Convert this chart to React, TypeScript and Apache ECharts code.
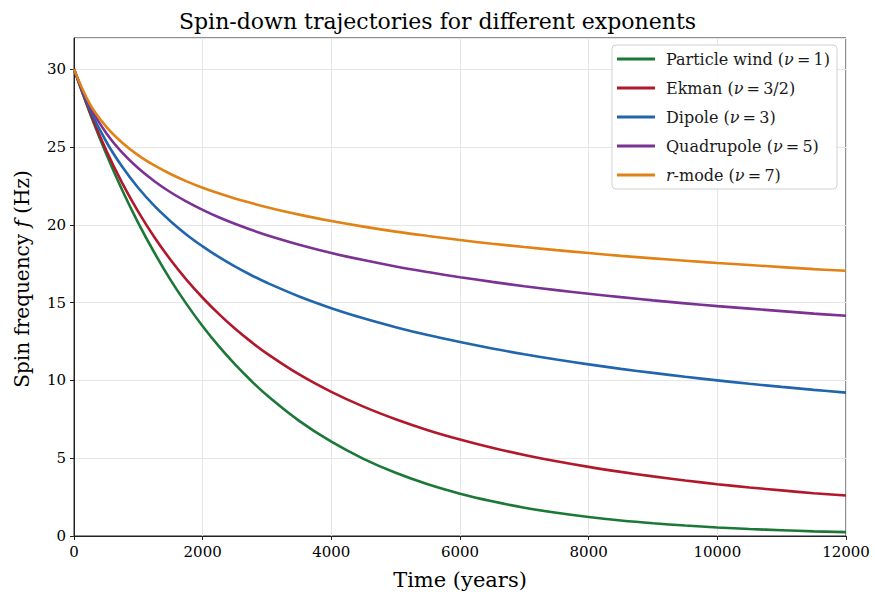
import React, { useEffect, useRef } from "react";
import * as echarts from "echarts";

const years = [0, 250, 500, 750, 1000, 1250, 1500, 1750, 2000, 2250, 2500, 2750, 3000, 3500, 4000, 4500, 5000, 5500, 6000, 6500, 7000, 7500, 8000, 8500, 9000, 9500, 10000, 10500, 11000, 11500, 12000];

const particleWind = [30, 27.15, 24.56, 22.22, 20.11, 18.2, 16.46, 14.9, 13.48, 12.2, 11.04, 9.99, 9.04, 7.4, 6.06, 4.96, 4.06, 3.32, 2.72, 2.23, 1.82, 1.49, 1.22, 1.0, 0.82, 0.67, 0.55, 0.45, 0.37, 0.3, 0.25];
const ekman = [30, 27.21, 24.79, 22.68, 20.83, 19.2, 17.75, 16.46, 15.31, 14.27, 13.33, 12.49, 11.72, 10.38, 9.26, 8.31, 7.5, 6.8, 6.2, 5.67, 5.21, 4.8, 4.44, 4.12, 3.83, 3.57, 3.33, 3.12, 2.93, 2.75, 2.6];
const dipole = [30, 27.39, 25.35, 23.72, 22.36, 21.21, 20.23, 19.36, 18.61, 17.93, 17.32, 16.77, 16.27, 15.39, 14.64, 13.99, 13.42, 12.91, 12.46, 12.05, 11.68, 11.34, 11.03, 10.74, 10.48, 10.23, 10.0, 9.78, 9.58, 9.39, 9.21];
const quadrupole = [30, 27.58, 25.9, 24.63, 23.63, 22.8, 22.09, 21.49, 20.96, 20.48, 20.06, 19.68, 19.33, 18.72, 18.19, 17.73, 17.32, 16.96, 16.63, 16.33, 16.05, 15.8, 15.57, 15.35, 15.14, 14.95, 14.77, 14.61, 14.45, 14.29, 14.15];
const rMode = [30, 27.74, 26.31, 25.27, 24.46, 23.81, 23.26, 22.79, 22.38, 22.02, 21.69, 21.4, 21.13, 20.65, 20.24, 19.88, 19.56, 19.28, 19.02, 18.78, 18.57, 18.37, 18.18, 18.0, 17.84, 17.69, 17.54, 17.41, 17.28, 17.15, 17.04];

const seriesNames = ["Particle wind", "Ekman", "Dipole", "Quadrupole", "r-mode"];
const nuLabels = ["1", "3/2", "3", "5", "7"];
const seriesValues = [particleWind, ekman, dipole, quadrupole, rMode];
const colors = ["#1b7837", "#b2182b", "#2166ac", "#7b3294", "#e08214"];

const FONT = "'DejaVu Serif', serif";

export default function App() {
  const ref = useRef<HTMLDivElement>(null);
  useEffect(() => {
    if (!ref.current) return;
    const chart = echarts.init(ref.current, undefined, { renderer: "svg" });
    const series = seriesNames.map((name, i) => ({
      name,
      type: "line",
      smooth: 0.4,
      showSymbol: false,
      data: years.map((t, j) => [t, seriesValues[i][j]]),
      lineStyle: { color: colors[i], width: 2.6 },
      itemStyle: { color: colors[i] },
      z: 3,
    }));
    chart.setOption({
      animation: false,
      backgroundColor: "#ffffff",
      textStyle: { fontFamily: FONT },
      title: {
        text: "Spin-down trajectories for different exponents",
        left: "center",
        top: 5,
        textStyle: { fontFamily: FONT, fontSize: 22, fontWeight: "normal", color: "#000" },
      },
      grid: {
        left: 74,
        right: 29,
        top: 38,
        bottom: 56,
        containLabel: false,
        outerBoundsMode: "none",
        show: true,
        borderColor: "#222",
        borderWidth: 1,
      },
      legend: {
        orient: "vertical",
        right: 38,
        top: 45,
        padding: [6, 7, 6, 5],
        itemGap: 13,
        itemWidth: 38,
        itemHeight: 3,
        icon: "rect",
        backgroundColor: "rgba(255,255,255,0.85)",
        borderColor: "#d0d0d0",
        borderWidth: 1,
        borderRadius: 4,
        data: seriesNames,
        formatter: (name: string) => {
          const i = seriesNames.indexOf(name);
          if (i === 4) {
            return "{it|r}{n|-mode (}{it|ν}{n|\u2009=\u2009" + nuLabels[i] + ")}";
          }
          return "{n|" + name + " (}{it|ν}{n|\u2009=\u2009" + nuLabels[i] + ")}";
        },
        textStyle: {
          fontFamily: FONT,
          fontSize: 16,
          color: "#1a1a1a",
          padding: [0, 0, 0, 6],
          rich: {
            n: { fontFamily: FONT, fontSize: 16, color: "#1a1a1a" },
            it: { fontFamily: FONT, fontSize: 16, fontStyle: "italic", color: "#1a1a1a" },
          },
        },
      },
      xAxis: {
        type: "value",
        min: 0,
        max: 12000,
        interval: 2000,
        name: "Time (years)",
        nameLocation: "middle",
        nameGap: 33,
        nameTextStyle: { fontFamily: FONT, fontSize: 21, color: "#000" },
        axisLine: { show: true, onZero: false, lineStyle: { color: "#222", width: 1 } },
        axisTick: { show: true, length: 4, lineStyle: { color: "#222" } },
        axisLabel: {
          fontFamily: FONT,
          fontSize: 15,
          color: "#000",
          margin: 8,
          formatter: (v: number) => String(v),
        },
        splitLine: { show: true, lineStyle: { color: "#e6e6e6", width: 1 } },
      },
      yAxis: {
        type: "value",
        min: 0,
        max: 32,
        interval: 5,
        name: "{n|Spin frequency }{it|f}{n| (Hz)}",
        nameLocation: "middle",
        nameGap: 42,
        nameRotate: 90,
        nameTextStyle: {
          fontFamily: FONT,
          fontSize: 20,
          color: "#000",
          padding: [0, 0, 0, 16],
          rich: {
            n: { fontFamily: FONT, fontSize: 20, color: "#000" },
            it: { fontFamily: FONT, fontSize: 20, fontStyle: "italic", color: "#000" },
          },
        },
        axisLine: { show: true, onZero: false, lineStyle: { color: "#222", width: 1 } },
        axisTick: { show: true, length: 4, lineStyle: { color: "#222" } },
        axisLabel: {
          fontFamily: FONT,
          fontSize: 15,
          color: "#000",
          margin: 8,
          showMaxLabel: false,
          formatter: (v: number) => String(v),
        },
        splitLine: { show: true, lineStyle: { color: "#e6e6e6", width: 1 } },
      },
      series,
    });
    return () => chart.dispose();
  }, []);
  return <div ref={ref} style={{ width: 875, height: 592, position: "absolute", left: 0, top: 0 }} />;
}
